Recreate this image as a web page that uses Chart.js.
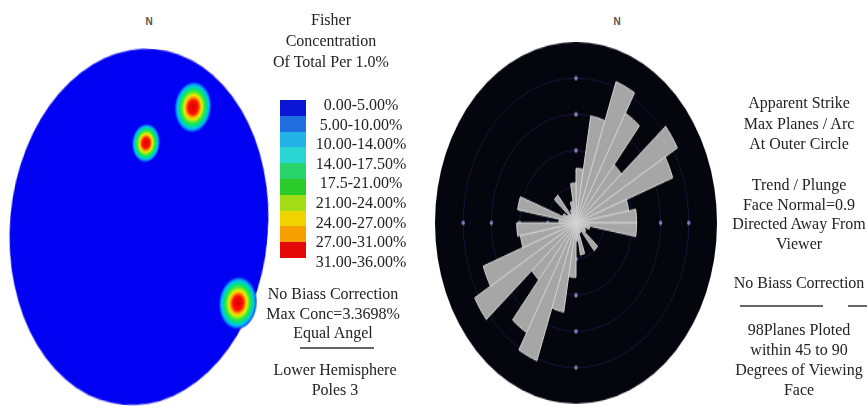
<!DOCTYPE html>
<html><head><meta charset="utf-8">
<script src="https://cdn.jsdelivr.net/npm/chart.js@4.4.0/dist/chart.umd.min.js"></script>
<style>
html,body{margin:0;padding:0;background:#fff;}
body{width:867px;height:407px;position:relative;overflow:hidden;font-family:'Liberation Serif','Times New Roman',serif;color:#222;}
.abs{position:absolute;}
.txt{position:absolute;font-size:16px;text-align:center;white-space:nowrap;width:220px;}
.n{position:absolute;font:bold 10px 'Liberation Sans',Arial,sans-serif;color:#555;width:20px;text-align:center;line-height:10px;}
#stereoWrap{left:10px;top:98px;width:258px;height:258px;transform-origin:50% 50%;transform:rotate(5deg) scaleY(1.384);}
#roseWrap{left:435px;top:81.5px;width:283px;height:283px;transform-origin:50% 50%;transform:scaleY(1.283);}
.rule{position:absolute;height:2px;background:#666;}
#bar{left:280px;top:100px;width:26px;height:158px;display:flex;flex-direction:column;}
#bar div{flex:1;}
</style></head><body>
<div class="n" style="left:139px;top:17px;">N</div>
<div class="n" style="left:607px;top:17px;">N</div>
<div id="stereoWrap" class="abs"><canvas id="stereo" width="258" height="258"></canvas></div>
<div id="roseWrap" class="abs"><canvas id="rose" width="283" height="283"></canvas></div>

<div class="txt" style="left:221px;top:9px;line-height:21px;">Fisher<br>Concentration<br>Of Total Per 1.0%</div>
<div id="bar" class="abs"></div>
<div id="legendLabels" class="txt" style="left:251px;top:95px;line-height:19.6px;"></div>
<div class="txt" style="left:223px;top:284px;line-height:19.5px;">No Biass Correction<br>Max Conc=3.3698%<br>Equal Angel</div>
<div class="rule" style="left:300px;top:347px;width:74px;"></div>
<div class="txt" style="left:225px;top:360px;line-height:20px;">Lower Hemisphere<br>Poles 3</div>

<div class="txt" style="left:689px;top:93px;line-height:20.5px;">Apparent Strike<br>Max Planes / Arc<br>At Outer Circle</div>
<div class="txt" style="left:689px;top:175px;line-height:19.7px;">Trend / Plunge<br>Face Normal=0.9<br>Directed Away From<br>Viewer</div>
<div class="txt" style="left:689px;top:273px;line-height:20px;">No Biass Correction</div>
<div class="rule" style="left:740px;top:305px;width:83px;"></div>
<div class="rule" style="left:848px;top:305px;width:19px;"></div>
<div class="txt" style="left:689px;top:320px;line-height:20px;">98Planes Ploted<br>within 45 to 90<br>Degrees of Viewing<br>Face</div>

<script>
// ---- Stereonet (Fisher concentration of poles) ----
const poleNames = ['Pole 1', 'Pole 2', 'Pole 3'];
const poleX = [0.336, -0.003, 0.815];
const poleY = [0.695, 0.472, -0.376];
const poleSpread = [0.145, 0.11, 0.15];

// ---- Concentration legend ----
const concClasses = ['0.00-5.00%', '5.00-10.00%', '10.00-14.00%', '14.00-17.50%', '17.5-21.00%',
  '21.00-24.00%', '24.00-27.00%', '27.00-31.00%', '31.00-36.00%'];
const concColors = ['#0b16d4', '#1f6ee0', '#22b2e6', '#2ad6d2', '#2ad46c', '#2ccb2c', '#a4dc16', '#f0d400', '#f5a000', '#e40808'];

// ---- Rose diagram (apparent strike, 10 degree arcs) ----
const strikeBins = ['0-10','10-20','20-30','30-40','40-50','50-60','60-70','70-80','80-90',
  '90-100','100-110','110-120','120-130','130-140','140-150','150-160','160-170','170-180',
  '180-190','190-200','200-210','210-220','220-230','230-240','240-250','250-260','260-270',
  '270-280','280-290','290-300','300-310','310-320','320-330','330-340','340-350','350-360'];
const planesPerArc = [3.0, 6.0, 8.3, 7.0, 4.2, 8.3, 7.3, 3.8, 4.3,
  4.3, 1.0, 0.7, 0.8, 2.0, 0.6, 0.6, 1.8, 1.0,
  3.0, 5.0, 8.1, 7.0, 4.1, 8.3, 7.0, 4.0, 4.2,
  1.2, 4.2, 1.0, 0.7, 2.0, 0.6, 0.8, 1.2, 2.2];
const ringTicks = [2, 4, 6, 8];

// legend
document.getElementById('bar').innerHTML = concColors.map(c => '<div style="background:' + c + '"></div>').join('');
document.getElementById('legendLabels').innerHTML = concClasses.join('<br>');

const netBg = {
  id: 'netBg',
  beforeDatasetsDraw(chart) {
    const {ctx, scales: {x, y}} = chart;
    const cx = x.getPixelForValue(0), cy = y.getPixelForValue(0);
    const r = x.getPixelForValue(1) - cx;
    ctx.save();
    ctx.beginPath();
    ctx.arc(cx, cy, r, 0, Math.PI * 2);
    ctx.fillStyle = '#0000f2';
    ctx.fill();
    ctx.restore();
  }
};

function spreadPx(c) {
  const x = c.chart.scales.x;
  if (!x || c.dataIndex === undefined) return 10;
  const v = Math.abs(x.getPixelForValue(poleSpread[c.dataIndex]) - x.getPixelForValue(0));
  return isFinite(v) && v > 0 ? v : 10;
}
function spotFill(c) {
  const ch = c.chart, xs = ch.scales.x, ys = ch.scales.y;
  if (!xs || !ys || c.dataIndex === undefined) return '#ff0000';
  const px = xs.getPixelForValue(poleX[c.dataIndex]);
  const py = ys.getPixelForValue(poleY[c.dataIndex]);
  const r = spreadPx(c);
  if (!isFinite(px) || !isFinite(py) || !isFinite(r)) return '#ff0000';
  const g = ch.ctx.createRadialGradient(px, py, 0, px, py, r);
  g.addColorStop(0, '#d80000');
  g.addColorStop(0.27, '#ff1000');
  g.addColorStop(0.37, '#ff9000');
  g.addColorStop(0.47, '#f2f000');
  g.addColorStop(0.59, '#4cec30');
  g.addColorStop(0.71, '#00e27a');
  g.addColorStop(0.83, '#00c6f2');
  g.addColorStop(0.93, '#0a58f8');
  g.addColorStop(1, 'rgba(0,0,242,0)');
  return g;
}

const stereoChart = new Chart(document.getElementById('stereo'), {
  type: 'scatter',
  data: {
    datasets: [{
      label: 'Poles',
      data: poleX.map((x, i) => ({x: x, y: poleY[i]})),
      pointRadius: spreadPx,
      pointHoverRadius: spreadPx,
      pointBackgroundColor: spotFill,
      pointHoverBackgroundColor: spotFill,
      pointBorderWidth: 0,
      pointHoverBorderWidth: 0,
      clip: false
    }]
  },
  options: {
    responsive: false, animation: false, events: [],
    layout: {padding: 0, autoPadding: false},
    plugins: {legend: {display: false}, tooltip: {enabled: false}},
    scales: {
      x: {type: 'linear', min: -1, max: 1, display: false},
      y: {type: 'linear', min: -1, max: 1, display: false}
    }
  },
  plugins: [netBg]
});
stereoChart.update('none');

const roseBg = {
  id: 'roseBg',
  beforeDraw(chart) {
    const s = chart.scales.r, ctx = chart.ctx;
    ctx.save();
    ctx.beginPath();
    ctx.arc(s.xCenter, s.yCenter, s.drawingArea, 0, Math.PI * 2);
    ctx.fillStyle = '#05050d';
    ctx.fill();
    ctx.restore();
  },
  beforeDatasetsDraw(chart) {
    const s = chart.scales.r, ctx = chart.ctx;
    const n = strikeBins.length;
    ctx.save();
    ctx.fillStyle = '#7c7cb8';
    [0, n / 4, n / 2, 3 * n / 4].forEach(idx => {
      ringTicks.forEach(v => {
        const p = s.getPointPositionForValue(idx, v);
        ctx.beginPath();
        ctx.arc(p.x, p.y, 1.8, 0, Math.PI * 2);
        ctx.fill();
      });
    });
    ctx.restore();
  }
};

new Chart(document.getElementById('rose'), {
  type: 'polarArea',
  data: {
    labels: strikeBins,
    datasets: [{
      label: 'Planes / Arc',
      data: planesPerArc,
      backgroundColor: '#a6a6a6',
      borderColor: '#d2d2d2',
      borderWidth: 1
    }]
  },
  options: {
    responsive: false, animation: false, events: [],
    layout: {padding: 0},
    plugins: {legend: {display: false}, tooltip: {enabled: false}},
    scales: {
      r: {
        min: 0, max: 10,
        ticks: {display: false, stepSize: 2},
        grid: {color: c => (c.tick && c.tick.value >= 10) ? 'rgba(0,0,0,0)' : '#151538', lineWidth: 1},
        angleLines: {display: false},
        pointLabels: {display: false}
      }
    }
  },
  plugins: [roseBg]
});
</script>
</body></html>
